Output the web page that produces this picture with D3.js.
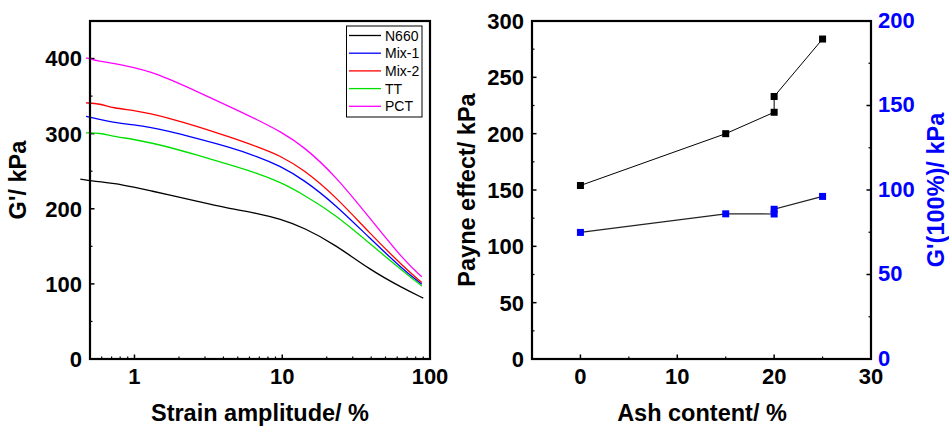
<!DOCTYPE html>
<html>
<head>
<meta charset="utf-8">
<script src="https://cdn.jsdelivr.net/npm/d3@7"></script>
<style>
  body { margin: 0; background: #fff; }
  svg { display: block; font-family: "Liberation Sans", Arial, sans-serif; }
  .tick-label { font-size: 22px; font-weight: bold; }
  .axis-title { font-size: 23.5px; font-weight: bold; }
  .legend-text { font-size: 14px; }
</style>
</head>
<body>
<div id="chart"></div>
<script>
// strain sweep data (left panel)
const strain = [0.47, 0.58, 0.72, 1, 1.3, 1.65, 2.6, 4.4, 6.7, 9.7, 14, 23, 39, 66, 88];
const strainN660 = [0.43, 0.58, 0.72, 1, 1.3, 1.65, 2.6, 4.4, 6.7, 9.7, 14, 23, 39, 66, 90];
const gN660 = [239.6, 235.6, 234.3, 228.7, 223.7, 219.3, 210.2, 200.3, 194.3, 186.5, 175, 152, 119, 94, 81];
const gMix1 = [323, 319, 315, 311.6, 308, 304, 294, 282, 270, 257, 238.7, 205.3, 161, 118.7, 99.6];
const gMix2 = [341, 340, 334, 331, 326.3, 321.4, 310.4, 295.6, 283, 270.7, 252, 216.4, 167.6, 123, 101.7];
const gTT = [301, 301, 296.4, 292.4, 287.5, 283, 272, 258.7, 247.6, 235.6, 218.7, 192, 154, 116.4, 97.3];
const gPCT = [401, 396, 394, 388, 382, 374, 357, 336, 319, 303, 283, 243.5, 188, 132, 109.5];
const seriesNames = ["N660", "Mix-1", "Mix-2", "TT", "PCT"];
const seriesColors = ["#000000", "#0000ff", "#ff0000", "#00e000", "#ff00ff"];

// ash content data (right panel)
const ash = [0, 15, 20, 20, 25];
const payne = [154, 200, 219, 233, 284];
const ashG = [0, 15, 20, 20, 25];
const g100 = [74.9, 85.9, 85.8, 88.6, 96.2];

const svg = d3.select("#chart").append("svg")
    .attr("width", 949)
    .attr("height", 426);

// ---------- left panel ----------
const L = { left: 90, right: 430, top: 21, bottom: 359 };

const xL = d3.scaleLog().domain([0.5, 100]).range([L.left, L.right]);
const yL = d3.scaleLinear().domain([0, 450]).range([L.bottom, L.top]);

const left = svg.append("g");

// inward ticks drawn by hand so they sit inside the frame
const logMinor = [];
[0.1, 1, 10].forEach(dec => {
    for (let k = 2; k <= 9; k++) {
        const v = dec * k;
        if (v >= 0.5 && v < 100) logMinor.push(v);
    }
});
left.selectAll(".xminor").data(logMinor).enter().append("line")
    .attr("x1", d => xL(d)).attr("x2", d => xL(d))
    .attr("y1", L.bottom).attr("y2", L.bottom - 2.5)
    .attr("stroke", "#000").attr("stroke-width", 1.2);
left.selectAll(".xmajor").data([1, 10, 100]).enter().append("line")
    .attr("x1", d => xL(d)).attr("x2", d => xL(d))
    .attr("y1", L.bottom).attr("y2", L.bottom - 4.5)
    .attr("stroke", "#000").attr("stroke-width", 1.5);
left.selectAll(".xlab").data([1, 10, 100]).enter().append("text")
    .attr("class", "tick-label")
    .attr("x", d => xL(d)).attr("y", L.bottom + 25)
    .attr("text-anchor", "middle")
    .text(d => d);

const yMajorL = [0, 100, 200, 300, 400];
const yMinorL = [50, 150, 250, 350];
left.selectAll(".yminor").data(yMinorL).enter().append("line")
    .attr("x1", L.left).attr("x2", L.left + 2.5)
    .attr("y1", d => yL(d)).attr("y2", d => yL(d))
    .attr("stroke", "#000").attr("stroke-width", 1.2);
left.selectAll(".ymajor").data(yMajorL).enter().append("line")
    .attr("x1", L.left).attr("x2", L.left + 4.5)
    .attr("y1", d => yL(d)).attr("y2", d => yL(d))
    .attr("stroke", "#000").attr("stroke-width", 1.5);
left.selectAll(".ylab").data(yMajorL).enter().append("text")
    .attr("class", "tick-label")
    .attr("x", L.left - 8).attr("y", d => yL(d))
    .attr("dy", "0.36em")
    .attr("text-anchor", "end")
    .text(d => d);

// curves, basis spline smooths out reading noise
const gAll = [gN660, gMix1, gMix2, gTT, gPCT];
const lineL = d3.line().curve(d3.curveBasis);
gAll.forEach((vals, i) => {
    const xs = i === 0 ? strainN660 : strain;
    left.append("path")
        .attr("d", lineL(vals.map((v, j) => [xL(xs[j]), yL(v)])))
        .attr("fill", "none")
        .attr("stroke", seriesColors[i])
        .attr("stroke-width", 1.3);
});

left.append("rect")
    .attr("x", L.left).attr("y", L.top)
    .attr("width", L.right - L.left).attr("height", L.bottom - L.top)
    .attr("fill", "none").attr("stroke", "#000").attr("stroke-width", 2.2);

// legend
const leg = left.append("g").attr("transform", "translate(346.5,26)");
leg.append("rect")
    .attr("width", 75.5).attr("height", 91)
    .attr("fill", "#fff").attr("stroke", "#000").attr("stroke-width", 1);
seriesNames.forEach((name, i) => {
    const yy = 9.5 + i * 17.7;
    leg.append("line")
        .attr("x1", 2.5).attr("x2", 34.5)
        .attr("y1", yy).attr("y2", yy)
        .attr("stroke", seriesColors[i]).attr("stroke-width", 1.3);
    leg.append("text")
        .attr("class", "legend-text")
        .attr("x", 38.5).attr("y", yy)
        .attr("dy", "0.36em")
        .text(name);
});

left.append("text")
    .attr("class", "axis-title")
    .attr("x", 260).attr("y", 421)
    .attr("text-anchor", "middle")
    .text("Strain amplitude/ %");
left.append("text")
    .attr("class", "axis-title")
    .attr("transform", "translate(26,180) rotate(-90)")
    .attr("text-anchor", "middle")
    .text("G'/ kPa");

// ---------- right panel ----------
const R = { left: 532, right: 871, top: 21, bottom: 359 };
const xR = d3.scaleLinear().domain([-5, 30]).range([R.left, R.right]);
const yR = d3.scaleLinear().domain([0, 300]).range([R.bottom, R.top]);
const yR2 = d3.scaleLinear().domain([0, 200]).range([R.bottom, R.top]);

const right = svg.append("g");

const xMajorR = [0, 10, 20, 30];
const xMinorR = [5, 15, 25];
right.selectAll(".xminor").data(xMinorR).enter().append("line")
    .attr("x1", d => xR(d)).attr("x2", d => xR(d))
    .attr("y1", R.bottom).attr("y2", R.bottom - 2.5)
    .attr("stroke", "#000").attr("stroke-width", 1.2);
right.selectAll(".xmajor").data(xMajorR).enter().append("line")
    .attr("x1", d => xR(d)).attr("x2", d => xR(d))
    .attr("y1", R.bottom).attr("y2", R.bottom - 4.5)
    .attr("stroke", "#000").attr("stroke-width", 1.5);
right.selectAll(".xlab").data(xMajorR).enter().append("text")
    .attr("class", "tick-label")
    .attr("x", d => xR(d)).attr("y", R.bottom + 25)
    .attr("text-anchor", "middle")
    .text(d => d);

const yMajorR = d3.range(0, 301, 50);
const yMinorR = d3.range(25, 300, 50);
right.selectAll(".yminor").data(yMinorR).enter().append("line")
    .attr("x1", R.left).attr("x2", R.left + 2.5)
    .attr("y1", d => yR(d)).attr("y2", d => yR(d))
    .attr("stroke", "#000").attr("stroke-width", 1.2);
right.selectAll(".ymajor").data(yMajorR).enter().append("line")
    .attr("x1", R.left).attr("x2", R.left + 4.5)
    .attr("y1", d => yR(d)).attr("y2", d => yR(d))
    .attr("stroke", "#000").attr("stroke-width", 1.5);
right.selectAll(".ylab").data(yMajorR).enter().append("text")
    .attr("class", "tick-label")
    .attr("x", R.left - 8).attr("y", d => yR(d))
    .attr("dy", "0.36em")
    .attr("text-anchor", "end")
    .text(d => d);

const y2Major = d3.range(0, 201, 50);
const y2Minor = d3.range(25, 200, 50);
right.selectAll(".y2minor").data(y2Minor).enter().append("line")
    .attr("x1", R.right).attr("x2", R.right - 2.5)
    .attr("y1", d => yR2(d)).attr("y2", d => yR2(d))
    .attr("stroke", "#000").attr("stroke-width", 1.2);
right.selectAll(".y2major").data(y2Major).enter().append("line")
    .attr("x1", R.right).attr("x2", R.right - 4.5)
    .attr("y1", d => yR2(d)).attr("y2", d => yR2(d))
    .attr("stroke", "#000").attr("stroke-width", 1.5);
right.selectAll(".y2lab").data(y2Major).enter().append("text")
    .attr("class", "tick-label")
    .attr("x", R.right + 7).attr("y", d => yR2(d))
    .attr("dy", "0.3em")
    .attr("fill", "#0000ff")
    .text(d => d);

const lineR = d3.line();
right.append("path")
    .attr("d", lineR(ash.map((a, i) => [xR(a), yR(payne[i])])))
    .attr("fill", "none").attr("stroke", "#000").attr("stroke-width", 1);
right.append("path")
    .attr("d", lineR(ashG.map((a, i) => [xR(a), yR2(g100[i])])))
    .attr("fill", "none").attr("stroke", "#222").attr("stroke-width", 1.2);

const ms = 7;
right.selectAll(".pt1").data(ash).enter().append("rect")
    .attr("x", d => xR(d) - ms / 2)
    .attr("y", (d, i) => yR(payne[i]) - ms / 2)
    .attr("width", ms).attr("height", ms)
    .attr("fill", "#000");
right.selectAll(".pt2").data(ashG).enter().append("rect")
    .attr("x", d => xR(d) - ms / 2)
    .attr("y", (d, i) => yR2(g100[i]) - ms / 2)
    .attr("width", ms).attr("height", ms)
    .attr("fill", "#0000ff");

right.append("rect")
    .attr("x", R.left).attr("y", R.top)
    .attr("width", R.right - R.left).attr("height", R.bottom - R.top)
    .attr("fill", "none").attr("stroke", "#000").attr("stroke-width", 2.2);

right.append("text")
    .attr("class", "axis-title")
    .attr("x", 702).attr("y", 421)
    .attr("text-anchor", "middle")
    .text("Ash content/ %");
right.append("text")
    .attr("class", "axis-title")
    .attr("transform", "translate(475,190) rotate(-90)")
    .attr("text-anchor", "middle")
    .text("Payne effect/ kPa");
right.append("text")
    .attr("class", "axis-title")
    .attr("transform", "translate(944,190) rotate(-90)")
    .attr("text-anchor", "middle")
    .attr("fill", "#0000ff")
    .text("G'(100%)/ kPa");
</script>
</body>
</html>
